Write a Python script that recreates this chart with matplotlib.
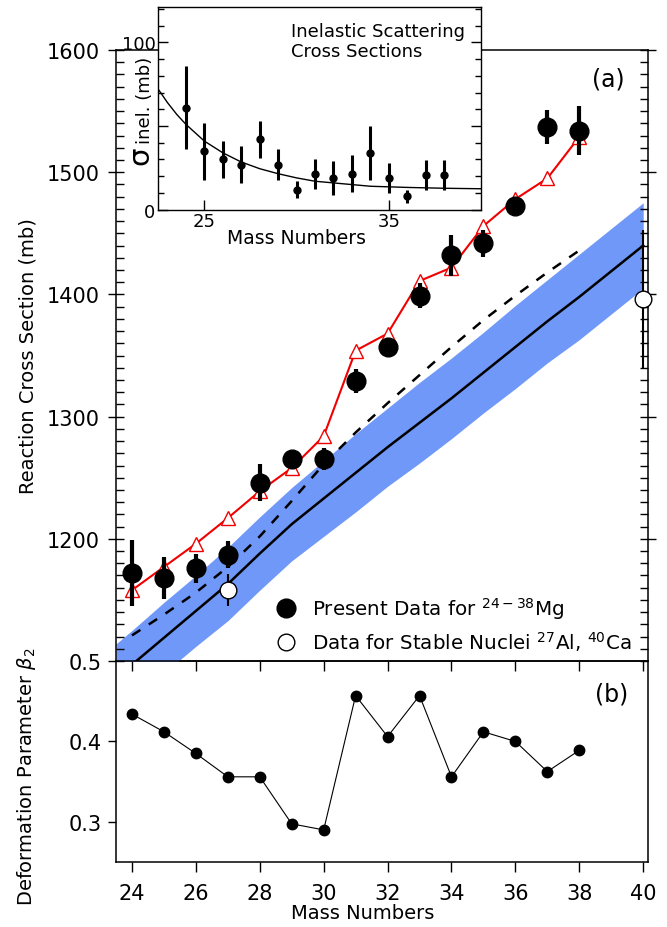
import numpy as np
import matplotlib
matplotlib.use("Agg")
from matplotlib import pyplot as plt
from matplotlib.lines import Line2D
from matplotlib.ticker import MultipleLocator, FixedLocator

plt.rcParams['font.family'] = ['DejaVu Sans']

# Reaction cross sections of 24-38Mg
mass = [24, 25, 26, 27, 28, 29, 30, 31, 32, 33, 34, 35, 36, 37, 38]
sigma_r = [1172, 1168, 1176, 1187, 1246, 1265, 1265, 1329, 1357, 1399,
           1432, 1442, 1472, 1537, 1534]
sigma_err = [27, 17, 12, 11, 15, 7, 9, 10, 7, 10, 17, 11, 6, 14, 20]
sigma_calc = [1158, 1177, 1196, 1217, 1239, 1258, 1284, 1354, 1368, 1411,
              1422, 1456, 1478, 1495, 1529]

# Stable nuclei 27Al, 40Ca
stable_mass = [27, 40]
stable_sigma = [1158, 1396]
stable_err = [13, 57]

# Spherical calculation (solid) and its band, deformed (dashed)
sph_mass = [24, 25, 26, 27, 28, 29, 30, 31, 32, 33, 34, 35, 36, 37, 38, 39, 40]
sph_sigma = [1097, 1119, 1141, 1163, 1188, 1212, 1233, 1254, 1275, 1295,
             1315, 1336, 1357, 1378, 1398, 1419, 1440]
band_mass = [23.5, 24, 25, 26, 27, 28, 29, 30, 31, 32, 33, 34, 35, 36, 37, 38, 39, 40]
band_hi = [1114, 1125, 1148, 1170, 1193, 1218, 1242, 1264, 1286, 1307,
           1328, 1348, 1369, 1391, 1412, 1433, 1454, 1475]
band_lo = [1058, 1069, 1090, 1112, 1133, 1158, 1182, 1202, 1222, 1243,
           1262, 1282, 1303, 1323, 1344, 1363, 1384, 1405]
dash_mass = [24, 25, 26, 27, 28, 29, 30, 31, 32, 33, 34, 35, 36, 37, 38]
dash_sigma = [1121, 1138, 1156, 1177, 1202, 1231, 1261, 1287, 1311, 1334,
              1357, 1379, 1399, 1418, 1436]

# inelastic cross sections (inset)
inel = [61, 35, 30, 27, 42, 27, 12, 21.5, 19, 21.5, 34, 19, 8, 20.5, 20.5]
inel_err = [25, 17, 11, 11, 11, 9, 5, 9, 10, 11, 16, 9, 4, 9, 9]
fit_mass = [22.5, 23, 23.5, 24, 24.5, 25, 26, 27, 28, 29, 30, 31, 32, 33,
            34, 36, 38, 40]
fit_inel = [72, 64, 57, 51, 46, 41, 34, 28.5, 24.5, 21.5, 19, 17, 16, 15,
            14, 13.3, 12.8, 12.5]

# deformation parameter beta2
beta2 = [0.434, 0.412, 0.385, 0.356, 0.356, 0.2975, 0.290, 0.457, 0.406,
         0.457, 0.356, 0.412, 0.400, 0.3625, 0.389]


fig = plt.figure(figsize=(6.67, 9.28), dpi=100)
# panel (b) first so the ticks of (a) can hang into it
axb = fig.add_axes([0.1739, 0.0700, 0.7976, 0.2166])
ax = fig.add_axes([0.1739, 0.2866, 0.7976, 0.6584])
axi = fig.add_axes([0.2373, 0.773, 0.4838, 0.218])
ax.patch.set_visible(False)

# ---- panel (a)
ax.fill_between(band_mass, band_lo, band_hi, color='#7098F8', lw=0, zorder=1)
ax.plot(sph_mass, sph_sigma, color='k', lw=1.8, zorder=2)
ax.plot(dash_mass, dash_sigma, color='k', lw=1.8, ls=(0, (4, 4)), zorder=2)
ax.plot(mass, sigma_calc, color='#f00000', lw=1.5, marker='^', ms=9.5,
        mfc='white', mec='#f00000', mew=1.0, zorder=3)
ax.errorbar(mass, sigma_r, yerr=sigma_err, fmt='o', color='k', ms=13.5,
            elinewidth=3, capsize=0, zorder=4)
ax.errorbar(stable_mass, stable_sigma, yerr=stable_err, fmt='o', color='k',
            mfc='white', mec='k', mew=1.0, ms=12, elinewidth=1.5, capsize=0,
            zorder=5, clip_on=False)

ax.set_xlim(23.5, 40.15)
ax.set_ylim(1100, 1600)
ax.set_xticks(np.arange(24, 41, 2))
ax.yaxis.set_minor_locator(MultipleLocator(10))
ax.set_yticks([1200, 1300, 1400, 1500, 1600])
ax.tick_params(axis='y', which='major', direction='inout', length=12, width=1.0,
               labelsize=15, right=True, pad=6)
ax.tick_params(axis='y', which='minor', direction='in', length=6, width=1.0,
               right=True)
ax.tick_params(axis='x', which='major', direction='out', length=7, width=1.0,
               labelbottom=False)
ax.set_ylabel('Reaction Cross Section (mb)', fontsize=14)
ax.yaxis.set_label_coords(-0.147, 0.5)
for s in ax.spines.values():
    s.set_linewidth(1.1)
ax.text(0.925, 0.953, '(a)', transform=ax.transAxes, fontsize=17,
        ha='center', va='center')

handles = [Line2D([], [], ls='none', marker='o', ms=13.5, color='k'),
           Line2D([], [], ls='none', marker='o', ms=12, mfc='white',
                  mec='k', mew=1.0)]
labels = [r'Present Data for $^{\mathregular{24-38}}$Mg',
          r'Data for Stable Nuclei $^{\mathregular{27}}$Al, $^{\mathregular{40}}$Ca']
ax.legend(handles, labels, loc='lower left', bbox_to_anchor=(0.285, 0.0),
          frameon=False, fontsize=14.3, handletextpad=0.75, labelspacing=0.42,
          borderaxespad=0, handlelength=1.1)

# ---- inset
axi.set_facecolor('white')
axi.errorbar(mass, inel, yerr=inel_err, fmt='o', color='k', ms=5,
             elinewidth=2.2, capsize=0)
axi.plot(fit_mass, fit_inel, color='k', lw=1.0)
axi.set_xlim(22.5, 40)
axi.set_ylim(0, 121)
axi.xaxis.set_major_locator(FixedLocator([25, 35]))
axi.xaxis.set_minor_locator(FixedLocator([30]))
axi.yaxis.set_major_locator(FixedLocator([0, 50, 100]))
axi.yaxis.set_minor_locator(MultipleLocator(10))
axi.set_yticklabels(['0', '', '100'])
axi.tick_params(which='major', direction='in', length=7, width=1.0,
                labelsize=13, right=True, top=False, pad=2)
axi.tick_params(which='minor', direction='in', length=4, width=1.0, right=True)
axi.tick_params(axis='x', which='minor', length=0)
axi.set_xlabel('Mass Numbers', fontsize=13.5, labelpad=-2)
axi.xaxis.label.set_x(0.427)
# y label: a large sigma followed by "inel. (mb)"
axi.text(-0.013, 0.27, '\u03c3', rotation=90, fontsize=21, ha='right',
         va='center', transform=axi.transAxes)
axi.text(-0.013, 0.545, 'inel. (mb)', rotation=90, fontsize=13, ha='right',
         va='center', transform=axi.transAxes)
axi.text(0.41, 0.93, 'Inelastic Scattering\nCross Sections',
         transform=axi.transAxes, fontsize=13, ha='left', va='top',
         linespacing=1.15)
for s in axi.spines.values():
    s.set_linewidth(1.0)

# ---- panel (b)
axb.plot(mass, beta2, color='k', lw=0.8, marker='o', ms=7.5)
axb.set_xlim(23.5, 40.15)
axb.set_ylim(0.25, 0.5)
axb.set_xticks(np.arange(24, 41, 2))
axb.set_yticks([0.3, 0.4, 0.5])
axb.tick_params(axis='x', which='major', direction='out', length=7, width=1.0,
                labelsize=15, pad=8)
axb.tick_params(axis='y', which='major', direction='out', length=6, width=1.0,
                labelsize=15, pad=4)
axb.set_xlabel('Mass Numbers', fontsize=14, labelpad=0)
axb.xaxis.label.set_x(0.464)
axb.set_ylabel(r'Deformation Parameter $\beta_2$', fontsize=14)
axb.yaxis.set_label_coords(-0.147, 0.43)
for s in axb.spines.values():
    s.set_linewidth(1.1)
axb.text(0.932, 0.836, '(b)', transform=axb.transAxes, fontsize=17,
         ha='center', va='center')

fig.savefig('out.png', dpi=100)
